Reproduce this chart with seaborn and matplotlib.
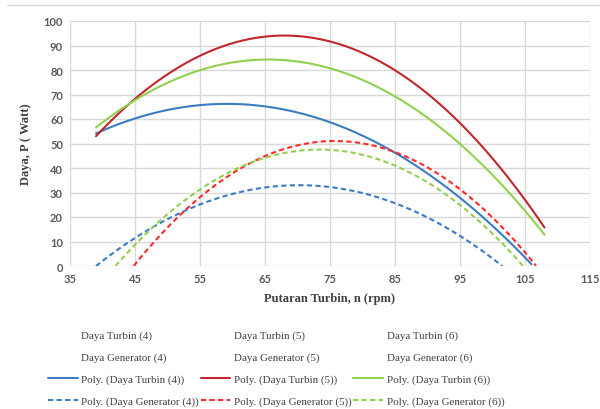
import numpy as np
import pandas as pd
import matplotlib
matplotlib.use("Agg")
import matplotlib.pyplot as plt
import seaborn as sns
from matplotlib.lines import Line2D

# values (rpm, Watt)
x_t4 = [39, 45, 55, 65, 75, 85, 95, 105, 106]
turbin_4 = [54, 60.5, 65.5, 65, 58.5, 46.5, 28, 3.5, 0.5]
x_t5 = [39, 45, 55, 65, 75, 85, 95, 105, 108]
turbin_5 = [53, 68.2, 85.8, 93.6, 91.6, 79.9, 58.4, 27.2, 15.5]
x_t6 = [39, 45, 55, 65, 75, 85, 95, 105, 108]
turbin_6 = [56.5, 67.7, 79.9, 84.3, 80.7, 69.2, 49.8, 22.5, 12.8]

x_g4 = [39, 45, 55, 65, 75, 85, 95, 101.5]
generator_4 = [0, 11.4, 25.1, 32.1, 32.2, 25.6, 12.3, 0]
x_g5 = [44.8, 55, 65, 75, 85, 95, 105, 106.7]
generator_5 = [0, 28.1, 44.9, 51, 46.4, 31.3, 5.7, 0]
x_g6 = [42, 45, 55, 65, 75, 85, 95, 104.7]
generator_6 = [0, 8.7, 31.2, 44.1, 47.4, 41, 24.9, 0]

blue = "#3c7cc4"
dark_red = "#c0282d"
red = "#ff2a2a"
green = "#92d050"

sns.set_style("white")
fig = plt.figure(figsize=(6, 4.1), dpi=100)
ax = fig.add_axes([70 / 600, 1 - 267 / 410, 520 / 600, 245 / 410])

series = [
    (x_t4, turbin_4, blue, "-"),
    (x_t5, turbin_5, dark_red, "-"),
    (x_t6, turbin_6, green, "-"),
    (x_g4, generator_4, blue, "--"),
    (x_g5, generator_5, red, "--"),
    (x_g6, generator_6, green, "--"),
]
for xs, ys, col, ls in series:
    df = pd.DataFrame({"n": xs, "P": ys})
    kw = {"color": col, "lw": 1.5}
    if ls == "--":
        kw["dashes"] = (2.5, 1.6)
    sns.regplot(data=df, x="n", y="P", order=2, ci=None, scatter=False,
                truncate=True, line_kws=kw, ax=ax)

ax.set_xlim(35, 115)
ax.set_ylim(0, 100)
ax.set_xticks(range(35, 116, 10))
ax.set_yticks(range(0, 101, 10))
ax.grid(True, color="#d9d9d9", lw=1)
ax.set_axisbelow(True)
for s in ax.spines.values():
    s.set_visible(False)
ax.tick_params(length=0, labelsize=8, labelcolor="#595959", pad=5)
for lab in ax.get_xticklabels() + ax.get_yticklabels():
    lab.set_fontfamily("Lato")
    lab.set_fontweight("bold")

ax.set_xlabel("Putaran Turbin, n (rpm)", family="Liberation Serif",
              fontweight="bold", fontsize=9, color="#404040", labelpad=6)
ax.set_ylabel("Daya, P ( Watt)", family="Liberation Serif",
              fontweight="bold", fontsize=9, color="#404040", labelpad=8)

# legend, filled column by column to match the 3x4 grid
handles, labels = [], []
for k, (c_solid, c_dash) in zip(["4", "5", "6"], [(blue, blue), (dark_red, red), (green, green)]):
    handles += [Line2D([], [], ls="none"), Line2D([], [], ls="none"),
                Line2D([], [], color=c_solid, lw=1.5),
                Line2D([], [], color=c_dash, lw=1.5, dashes=(2.5, 1.6))]
    labels += [f"Daya Turbin ({k})", f"Daya Generator ({k})",
               f"Poly. (Daya Turbin ({k}))", f"Poly. (Daya Generator ({k}))"]
leg = fig.legend(handles, labels, ncol=3, loc="upper left",
                 bbox_to_anchor=(48 / 600, 1 - 331 / 410), frameon=False,
                 prop={"family": "Liberation Serif", "size": 7.9},
                 borderpad=0, borderaxespad=0,
                 handlelength=2.7, handletextpad=0.35, columnspacing=0.12,
                 labelspacing=1.1)
for t in leg.get_texts():
    t.set_color("#404040")

fig.add_artist(Line2D([7 / 600, 1], [1 - 6 / 410, 1 - 6 / 410],
                      color="#d9d9d9", lw=1))

fig.savefig("out.png", dpi=100)
